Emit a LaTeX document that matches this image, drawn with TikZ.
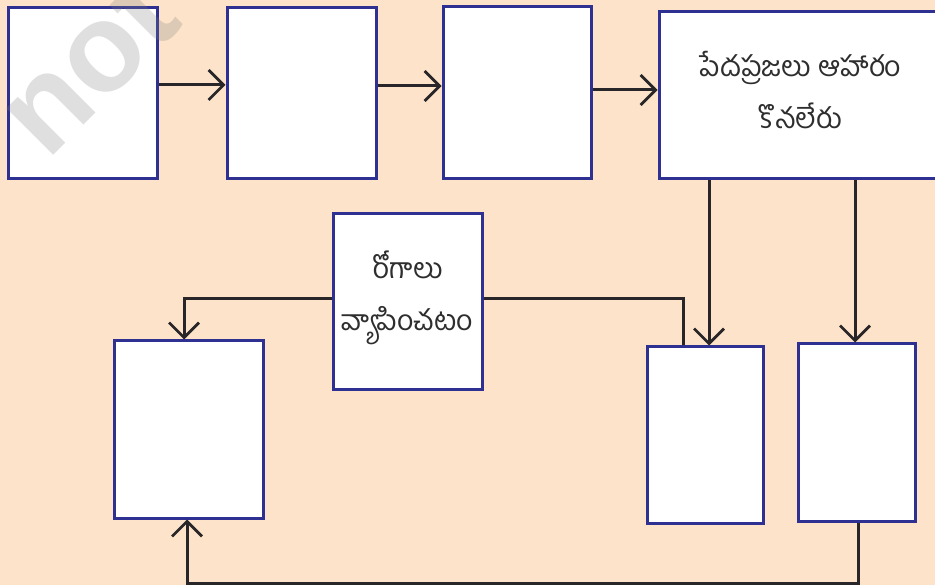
\documentclass[tikz,border=0pt]{standalone}
\usepackage{fontspec}
\newfontfamily\telugu[Script=Telugu]{Hind Guntur}
\newfontfamily\wmfont{Liberation Sans}
\usetikzlibrary{arrows.meta}
\definecolor{bgpeach}{RGB}{253,227,201}
\definecolor{navy}{RGB}{46,49,146}
\definecolor{linegray}{RGB}{40,38,40}
\tikzset{
  box/.style={draw=navy, line width=3pt, fill=white, inner sep=0pt},
  label/.style={align=center, inner sep=0pt, font=\telugu\fontsize{28.5}{52}\selectfont, text=black!82},
  conn/.style={draw=linegray, line width=3pt},
  arr/.style={conn, -{Straight Barb[length=15pt,width=30pt,line width=2.8pt]}},
}
\begin{document}
\begin{tikzpicture}[x=1pt,y=-1pt]
\fill[bgpeach] (0,0) rectangle (935,585);
\useasboundingbox (0,0) rectangle (935,585);
% boxes
\node[box, minimum width=149, minimum height=171] (b1) at (82.5,93.5) {};
\node[box, minimum width=149, minimum height=171] (b2) at (301.5,93.5) {};
\node[box, minimum width=148, minimum height=172] (b3) at (517,93) {};
\node[box, minimum width=283, minimum height=167] (b4) at (800.5,95.5) {};
\node[box, minimum width=149, minimum height=176] (b5) at (407.5,302) {};
\node[box, minimum width=149, minimum height=177] (b6) at (188.5,429.5) {};
\node[box, minimum width=116, minimum height=176] (b7) at (705,435) {};
\node[box, minimum width=117, minimum height=177] (b8) at (856.5,432.5) {};
\node[label] (t4) at ([yshift=5pt]b4.center) {పేదప్రజలు ఆహారం\\కొనలేరు};
\node[label] (t5) at ([yshift=4pt]b5.center) {రోగాలు\\వ్యాపించటం};
% helper coordinates
\coordinate (h1) at (0,85);
\coordinate (h2) at (0,86);
\coordinate (h3) at (0,90);
\coordinate (v1) at (709,0);
\coordinate (v2) at (855,0);
\coordinate (v3) at (184,0);
\coordinate (v4) at (683,0);
\coordinate (v5) at (187,0);
\coordinate (v6) at (858,0);
\coordinate (h4) at (0,299);
\coordinate (h5) at (0,583);
% connectors
\draw[arr] (b1.east |- h1) -- (b2.west |- h1);
\draw[arr] (b2.east |- h2) -- (b3.west |- h2);
\draw[arr] (b3.east |- h3) -- (b4.west |- h3);
\draw[arr] (b4.south -| v1) -- (b7.north -| v1);
\draw[arr] (b4.south -| v2) -- (b8.north -| v2);
\draw[arr] (b5.west |- h4) -| (b6.north -| v3);
\draw[conn] (b5.east |- h4) -| (b7.north -| v4);
\draw[arr] (b8.south -| v6) |- (h5 -| v5) -- (b6.south -| v5);
% watermark
\node[rotate=45, text=gray, opacity=0.25, font=\wmfont\bfseries\fontsize{125}{125}\selectfont, inner sep=0pt] (wm) at (88,64) {not};
\end{tikzpicture}
\end{document}
